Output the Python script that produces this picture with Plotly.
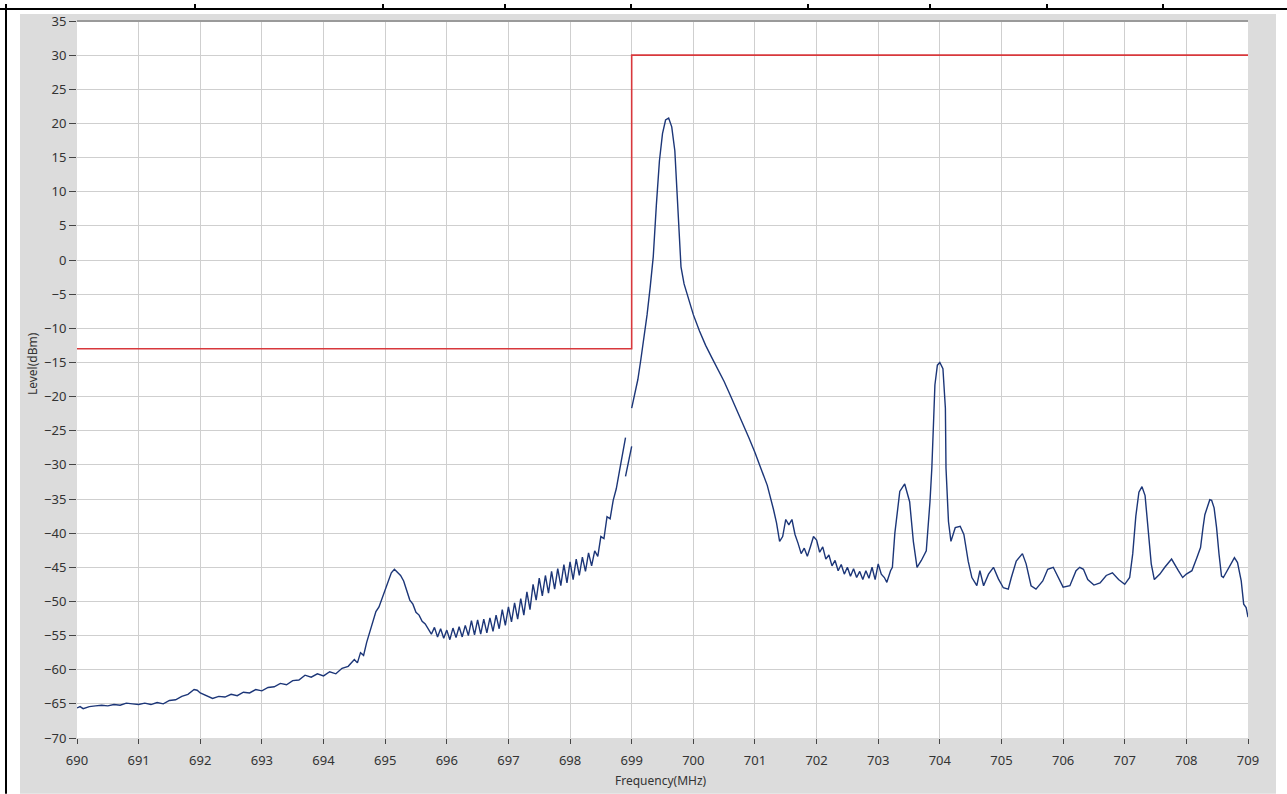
import plotly.graph_objects as go

W, H = 1287, 794
PL, PR, PT, PB = 77, 1248, 17, 738

# limit mask (dBm)
mask_freq = [690, 699, 699, 709]
mask_level = [-13, -13, 30, 30]

# trace: sweep before the small gap near 699 MHz
sweep_a_freq = [
    690.00, 690.05, 690.10, 690.15, 690.20, 690.30, 690.40, 690.50, 690.60, 690.70,
    690.80, 690.90, 691.00, 691.10, 691.20, 691.30, 691.40, 691.50, 691.60, 691.70,
    691.80, 691.90, 691.95, 692.00, 692.10, 692.20, 692.30, 692.40, 692.50, 692.60,
    692.70, 692.80, 692.90, 693.00, 693.10, 693.20, 693.30, 693.40, 693.50, 693.60,
    693.70, 693.80, 693.90, 694.00, 694.10, 694.20, 694.30, 694.40, 694.50, 694.55,
    694.60, 694.65, 694.70, 694.75, 694.80, 694.85, 694.90, 694.95, 695.00, 695.05,
    695.10, 695.15, 695.20, 695.25, 695.30, 695.35, 695.40, 695.45, 695.50, 695.55,
    695.60, 695.65, 695.70, 695.75, 695.80, 695.85, 695.90, 695.95, 696.00, 696.05,
    696.10, 696.15, 696.20, 696.25, 696.30, 696.35, 696.40, 696.45, 696.50, 696.55,
    696.60, 696.65, 696.70, 696.75, 696.80, 696.85, 696.90, 696.95, 697.00, 697.05,
    697.10, 697.15, 697.20, 697.25, 697.30, 697.35, 697.40, 697.45, 697.50, 697.55,
    697.60, 697.65, 697.70, 697.75, 697.80, 697.85, 697.90, 697.95, 698.00, 698.05,
    698.10, 698.15, 698.20, 698.25, 698.30, 698.35, 698.40, 698.45, 698.50, 698.55,
    698.60, 698.65, 698.70, 698.75, 698.80, 698.85, 698.90,
]
sweep_a_level = [
    -65.6, -65.4, -65.7, -65.5, -65.4, -65.3, -65.2, -65.3, -65.1, -65.2,
    -64.9, -65.0, -65.1, -64.9, -65.1, -64.8, -65.0, -64.5, -64.4, -63.9,
    -63.6, -62.9, -63.0, -63.4, -63.8, -64.2, -63.9, -64.0, -63.6, -63.8,
    -63.3, -63.4, -62.9, -63.1, -62.6, -62.5, -62.0, -62.2, -61.6, -61.5,
    -60.8, -61.1, -60.6, -60.9, -60.3, -60.6, -59.8, -59.5, -58.5, -59.0,
    -57.5, -57.9, -56.0, -54.5, -52.8, -51.5, -50.8, -49.5, -48.3, -47.0,
    -45.8, -45.3, -45.7, -46.2, -47.0, -48.5, -49.8, -50.4, -51.6, -52.0,
    -52.9, -53.3, -54.0, -54.8, -53.8, -55.2, -54.0, -55.4, -54.2, -55.6,
    -53.9, -55.3, -53.7, -55.2, -53.5, -55.0, -52.8, -54.9, -52.7, -54.8,
    -52.6, -54.6, -52.4, -54.4, -52.0, -54.0, -51.2, -53.5, -50.8, -53.0,
    -50.2, -52.6, -49.6, -52.0, -48.6, -51.2, -47.5, -49.8, -46.6, -49.2,
    -46.2, -48.8, -45.6, -48.2, -45.2, -47.7, -44.6, -47.3, -44.2, -46.8,
    -43.8, -46.2, -43.5, -45.6, -42.9, -44.8, -42.6, -43.4, -40.5, -40.8,
    -37.6, -37.9, -35.2, -33.5, -31.0, -28.5, -26.0,
]

# short overlapping piece of the sweep at 698.9-699.0 MHz
sweep_b_freq = [698.90, 698.95, 699.00]
sweep_b_level = [-31.7, -29.5, -27.3]

# rest of the sweep, carrier and spurs
sweep_c_freq = [
    699.00, 699.05, 699.10, 699.15, 699.20, 699.25, 699.30, 699.35, 699.40, 699.45,
    699.50, 699.55, 699.60, 699.65, 699.70, 699.75, 699.80, 699.85, 699.90, 699.95,
    700.00, 700.10, 700.20, 700.30, 700.40, 700.50, 700.60, 700.70, 700.80, 700.90,
    701.00, 701.10, 701.20, 701.30, 701.35, 701.40, 701.45, 701.50, 701.55, 701.60,
    701.65, 701.70, 701.75, 701.80, 701.85, 701.90, 701.95, 702.00, 702.05, 702.10,
    702.15, 702.20, 702.25, 702.30, 702.35, 702.40, 702.45, 702.50, 702.55, 702.60,
    702.65, 702.70, 702.75, 702.80, 702.85, 702.90, 702.95, 703.00, 703.05, 703.10,
    703.14, 703.20, 703.23, 703.27, 703.30, 703.35, 703.43, 703.51, 703.57, 703.63,
    703.70, 703.78, 703.84, 703.87, 703.90, 703.92, 703.96, 704.00, 704.05, 704.09,
    704.10, 704.14, 704.18, 704.25, 704.33, 704.39, 704.46, 704.52, 704.60, 704.65,
    704.71, 704.79, 704.87, 704.95, 705.03, 705.11, 705.16, 705.24, 705.34, 705.40,
    705.48, 705.56, 705.67, 705.75, 705.84, 705.92, 706.00, 706.11, 706.21, 706.27,
    706.33, 706.40, 706.50, 706.60, 706.70, 706.80, 706.90, 707.00, 707.08, 707.13,
    707.18, 707.23, 707.28, 707.33, 707.38, 707.43, 707.48, 707.52, 707.57, 707.65,
    707.76, 707.87, 707.94, 708.00, 708.09, 708.17, 708.23, 708.27, 708.30, 708.38,
    708.41, 708.45, 708.49, 708.53, 708.57, 708.60, 708.71, 708.78, 708.83, 708.89,
    708.93, 708.97, 709.00,
]
sweep_c_level = [
    -21.7, -19.5, -17.5, -14.5, -11.5, -8.0, -4.0, 0.5, 8.0, 14.5,
    18.5, 20.5, 20.8, 19.5, 16.0, 8.0, -1.0, -3.5, -5.0, -6.5,
    -8.0, -10.4, -12.5, -14.3, -16.0, -17.8, -19.8, -21.8, -23.8, -26.0,
    -28.2, -30.5, -33.0, -36.5, -38.5, -41.2, -40.5, -38.0, -38.8, -38.0,
    -40.2, -41.5, -43.0, -42.2, -43.4, -42.0, -40.5, -41.0, -42.8, -42.0,
    -43.8, -43.2, -44.8, -44.0, -45.5, -44.6, -46.0, -45.0, -46.3, -45.2,
    -46.5, -45.6, -46.8, -45.5, -46.6, -45.0, -46.8, -44.5, -46.0, -46.5,
    -47.2, -45.5, -45.0, -40.0, -37.3, -33.9, -32.8, -35.4, -41.2, -45.0,
    -44.0, -42.6, -35.4, -30.5, -23.2, -18.3, -15.4, -15.0, -15.9, -21.7,
    -30.5, -38.3, -41.2, -39.2, -39.0, -40.2, -44.1, -46.5, -47.7, -45.5,
    -47.7, -46.0, -45.0, -46.7, -48.0, -48.2, -46.5, -44.1, -43.0, -44.5,
    -47.7, -48.2, -47.0, -45.3, -45.0, -46.5, -47.9, -47.7, -45.5, -45.0,
    -45.3, -46.8, -47.6, -47.3, -46.2, -45.8, -46.8, -47.5, -46.5, -43.0,
    -37.5, -34.0, -33.2, -34.5, -39.0, -44.5, -46.8, -46.5, -46.0, -45.0,
    -43.8, -45.5, -46.5, -46.0, -45.5, -43.6, -42.1, -39.2, -37.3, -35.1,
    -35.2, -36.3, -39.2, -43.1, -46.3, -46.5, -44.8, -43.6, -44.3, -47.0,
    -50.4, -50.9, -52.3,
]

x_ticks = list(range(690, 710))
y_ticks = list(range(-70, 40, 5))


def px(x):
    return (x - PL) / (PR - PL)


def py(y):
    return (PB - y) / (PB - PT)


fig = go.Figure()

trace_color = "#1c3678"
for fx, ly in ((sweep_a_freq, sweep_a_level), (sweep_b_freq, sweep_b_level), (sweep_c_freq, sweep_c_level)):
    fig.add_trace(go.Scatter(x=fx, y=ly, mode="lines", line=dict(color=trace_color, width=1.4),
                             showlegend=False, hoverinfo="x+y"))

fig.add_trace(go.Scatter(x=mask_freq, y=mask_level, mode="lines",
                         line=dict(color="#d8383c", width=1.6), showlegend=False))

font = dict(family="Noto Sans, DejaVu Sans, sans-serif", size=12, color="#333333")
tick_font = dict(family="Noto Sans, DejaVu Sans, sans-serif", size=13, color="#333333")
grid = "#cfcfcf"
fig.update_xaxes(range=[690, 709], tickvals=x_ticks, ticks="outside", ticklen=5, tickcolor="#444444",
                 showgrid=True, gridcolor=grid, gridwidth=1, zeroline=False, showline=False,
                 tickfont=tick_font, ticklabelstandoff=5)
fig.update_yaxes(range=[-70, 35], tickvals=y_ticks, ticks="outside", ticklen=7, tickcolor="#444444",
                 showgrid=True, gridcolor=grid, gridwidth=1, zeroline=False, showline=False,
                 tickfont=tick_font)

shapes = [
    # grey graph panel and white plot area
    dict(type="rect", xref="paper", yref="paper", x0=px(20), x1=px(1276), y0=py(794), y1=py(10),
         fillcolor="#dcdcdc", line=dict(width=0), layer="below"),
    dict(type="rect", xref="paper", yref="paper", x0=0, x1=1, y0=0, y1=1,
         fillcolor="white", line=dict(width=0), layer="below"),
    # darker frame line along the top of the plot
    dict(type="line", xref="paper", yref="paper", x0=0, x1=1, y0=1, y1=1,
         line=dict(color="#9a9a9a", width=2)),
    # document table borders around the screenshot
    dict(type="line", xref="paper", yref="paper", x0=px(0), x1=px(W), y0=py(5), y1=py(5),
         line=dict(color="black", width=2)),
    dict(type="line", xref="paper", yref="paper", x0=px(6), x1=px(6), y0=py(0), y1=py(H),
         line=dict(color="black", width=2)),
]
for xd in (195, 383, 505, 631, 808, 930, 1047, 1163):
    shapes.append(dict(type="line", xref="paper", yref="paper", x0=px(xd), x1=px(xd), y0=py(0), y1=py(5),
                       line=dict(color="black", width=2)))

annotations = [
    dict(text="Level(dBm)", xref="paper", yref="paper", x=px(32), y=py(362), showarrow=False,
         textangle=-90, xanchor="center", yanchor="middle", font=font),
    dict(text="Frequency(MHz)", xref="paper", yref="paper", x=px(661), y=py(781), showarrow=False,
         xanchor="center", yanchor="middle", font=font),
]

fig.update_layout(
    width=W, height=H,
    margin=dict(l=PL, r=W - PR, t=PT, b=H - PB),
    paper_bgcolor="white", plot_bgcolor="white",
    shapes=shapes, annotations=annotations,
    showlegend=False,
)

# the page's default body margin would push the figure 8px off the window
fig.write_html("out.html", config={"displayModeBar": False},
               post_script="document.body.style.margin='0px';document.body.style.overflow='hidden';")
